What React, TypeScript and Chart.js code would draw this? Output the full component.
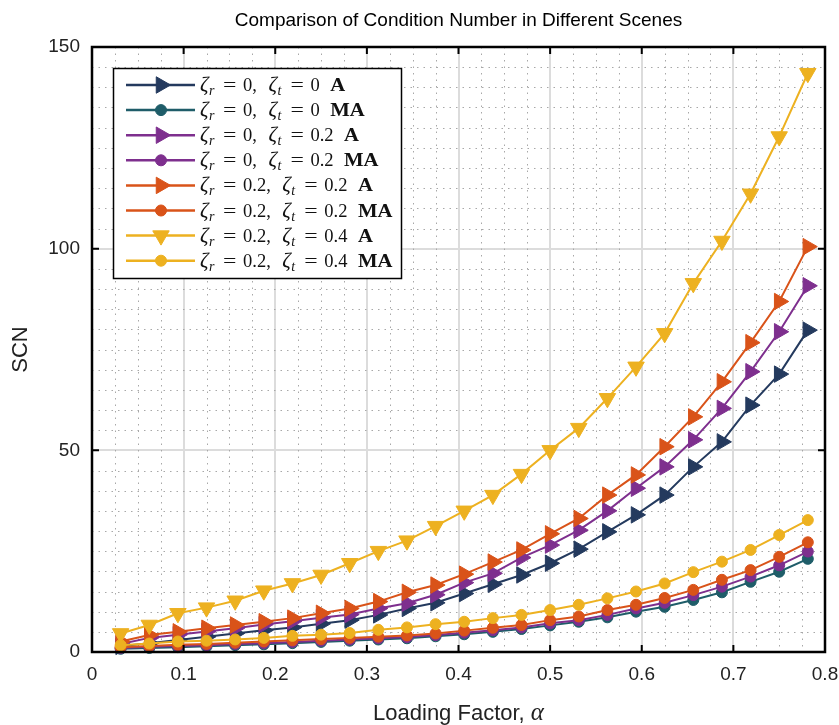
import React, { useEffect, useRef } from "react";
import { Chart, registerables } from "chart.js";

Chart.register(...registerables);

// Loading factor (x values)
const alpha = [
  0.03125, 0.0625, 0.09375, 0.125, 0.15625, 0.1875, 0.21875, 0.25, 0.28125,
  0.3125, 0.34375, 0.375, 0.40625, 0.4375, 0.46875, 0.5, 0.53125, 0.5625,
  0.59375, 0.625, 0.65625, 0.6875, 0.71875, 0.75, 0.78125,
];

// SCN series
const r0t0A = [1.4, 2.2, 3.0, 3.8, 4.6, 5.4, 6.1, 7.0, 7.9, 9.2, 10.8, 12.2, 14.5, 16.8, 19.1, 22.0, 25.5, 29.8, 34.0, 38.9, 45.9, 52.1, 61.2, 68.9, 79.8];
const r0t0MA = [0.8, 1.0, 1.2, 1.4, 1.7, 1.9, 2.2, 2.5, 2.8, 3.1, 3.4, 3.9, 4.4, 5.0, 5.7, 6.6, 7.5, 8.6, 10.0, 11.2, 12.9, 14.8, 17.4, 19.9, 23.1];
const r0t02A = [2.0, 3.5, 4.3, 5.1, 5.9, 6.8, 7.6, 8.5, 9.3, 10.8, 12.1, 14.2, 17.2, 19.5, 23.4, 26.5, 30.2, 35.0, 40.6, 45.9, 52.6, 60.4, 69.5, 79.4, 90.8];
const r0t02MA = [1.0, 1.3, 1.5, 1.7, 2.0, 2.2, 2.5, 2.8, 3.1, 3.4, 3.7, 4.2, 4.8, 5.4, 6.1, 7.1, 7.9, 9.2, 10.8, 12.2, 14.1, 16.2, 18.7, 21.5, 24.9];
const r02t02A = [2.6, 4.2, 5.0, 5.9, 6.7, 7.5, 8.4, 9.6, 10.8, 12.5, 14.8, 16.6, 19.3, 22.3, 25.3, 29.3, 33.1, 38.9, 43.9, 50.9, 58.3, 67.0, 76.7, 86.9, 100.5];
const r02t02MA = [1.2, 1.5, 1.8, 2.0, 2.3, 2.6, 2.9, 3.2, 3.5, 3.8, 4.1, 4.6, 5.3, 6.0, 6.7, 7.9, 8.8, 10.4, 11.7, 13.4, 15.4, 17.9, 20.3, 23.6, 27.2];
const r02t04A = [4.6, 6.7, 9.6, 11.0, 12.7, 15.2, 17.0, 19.1, 22.0, 25.0, 27.6, 31.2, 35.0, 38.9, 44.1, 50.0, 55.5, 62.9, 70.7, 79.0, 91.4, 101.9, 113.6, 127.8, 143.5];
const r02t04MA = [1.7, 2.1, 2.6, 2.8, 3.1, 3.5, 4.0, 4.3, 4.7, 5.5, 6.1, 6.9, 7.5, 8.4, 9.2, 10.4, 11.7, 13.3, 15.0, 17.0, 19.8, 22.4, 25.3, 29.0, 32.7];

// Legend text pieces
const zetaR = ["0", "0", "0", "0", "0.2", "0.2", "0.2", "0.2"];
const zetaT = ["0", "0", "0.2", "0.2", "0.2", "0.2", "0.4", "0.4"];
const method = ["A", "MA", "A", "MA", "A", "MA", "A", "MA"];

// Axis ticks / labels
const xTicks = [0, 0.1, 0.2, 0.3, 0.4, 0.5, 0.6, 0.7, 0.8];
const yTicks = [0, 50, 100, 150];
const titleText = "Comparison of Condition Number in Different Scenes";
const xLabel = "Loading Factor, ";
const xLabelSym = "\u03b1";
const yLabel = "SCN";

const seriesData = [r0t0A, r0t0MA, r0t02A, r0t02MA, r02t02A, r02t02MA, r02t04A, r02t04MA];
const colors = ["#243a5e", "#1f5d69", "#7e2f8e", "#7e2f8e", "#d95319", "#d95319", "#edb120", "#edb120"];
const markerStyle = ["tri-right", "circle", "tri-right", "circle", "tri-right", "circle", "tri-down", "circle"];

const SANS = "'Liberation Sans', Arial, Helvetica, sans-serif";
const SERIF = "'Liberation Serif', 'Times New Roman', serif";

function drawMarker(ctx: CanvasRenderingContext2D, kind: string, x: number, y: number, color: string) {
  ctx.save();
  ctx.fillStyle = color;
  ctx.strokeStyle = color;
  ctx.lineWidth = 1;
  ctx.setLineDash([]);
  ctx.beginPath();
  if (kind === "circle") {
    ctx.arc(x, y, 5.5, 0, Math.PI * 2);
  } else {
    const r = 9.5;
    let rad = kind === "tri-right" ? Math.PI / 2 : Math.PI;
    for (let i = 0; i < 3; i++) {
      const px = x + Math.sin(rad) * r;
      const py = y - Math.cos(rad) * r;
      if (i === 0) ctx.moveTo(px, py);
      else ctx.lineTo(px, py);
      rad += (2 * Math.PI) / 3;
    }
    ctx.closePath();
  }
  ctx.fill();
  ctx.stroke();
  ctx.restore();
}

const decorPlugin = {
  id: "decor",
  beforeDatasetsDraw(chart: any) {
    const { ctx, chartArea: a, scales } = chart;
    const xs = scales.x;
    const ys = scales.y;
    ctx.save();
    ctx.strokeStyle = "#a8a8a8";
    ctx.lineWidth = 1;
    ctx.setLineDash([1.5, 5]);
    for (let i = 1; i < 32; i++) {
      if (i % 4 === 0) continue;
      const px = Math.round(xs.getPixelForValue(i * 0.025)) + 0.5;
      ctx.beginPath();
      ctx.moveTo(px, a.top);
      ctx.lineTo(px, a.bottom);
      ctx.stroke();
    }
    for (let i = 1; i < 30; i++) {
      if (i % 10 === 0) continue;
      const py = Math.round(ys.getPixelForValue(i * 5)) + 0.5;
      ctx.beginPath();
      ctx.moveTo(a.left, py);
      ctx.lineTo(a.right, py);
      ctx.stroke();
    }
    ctx.restore();
  },
  afterDatasetsDraw(chart: any) {
    const { ctx, chartArea: a, scales } = chart;
    const xs = scales.x;
    const ys = scales.y;
    ctx.save();
    ctx.setLineDash([]);
    // ticks inward
    ctx.strokeStyle = "#000";
    ctx.lineWidth = 2;
    const tl = 7;
    xTicks.forEach((v) => {
      const px = xs.getPixelForValue(v);
      ctx.beginPath();
      ctx.moveTo(px, a.bottom);
      ctx.lineTo(px, a.bottom - tl);
      ctx.moveTo(px, a.top);
      ctx.lineTo(px, a.top + tl);
      ctx.stroke();
    });
    yTicks.forEach((v) => {
      const py = ys.getPixelForValue(v);
      ctx.beginPath();
      ctx.moveTo(a.left, py);
      ctx.lineTo(a.left + tl, py);
      ctx.moveTo(a.right, py);
      ctx.lineTo(a.right - tl, py);
      ctx.stroke();
    });
    // box
    ctx.lineWidth = 2.5;
    ctx.strokeRect(a.left, a.top, a.right - a.left, a.bottom - a.top);

    // legend
    const lx = 113.5, ly = 68.5, lw = 288, lh = 210;
    ctx.fillStyle = "#fff";
    ctx.fillRect(lx, ly, lw, lh);
    ctx.strokeStyle = "#000";
    ctx.lineWidth = 1.5;
    ctx.strokeRect(lx, ly, lw, lh);
    for (let i = 0; i < 8; i++) {
      const cy = 85 + i * 25.1;
      ctx.strokeStyle = colors[i];
      ctx.lineWidth = 2.5;
      ctx.beginPath();
      ctx.moveTo(126, cy);
      ctx.lineTo(195, cy);
      ctx.stroke();
      drawMarker(ctx, markerStyle[i], 161, cy, colors[i]);

      const base = cy + 6;
      ctx.fillStyle = "#111";
      ctx.textBaseline = "alphabetic";
      ctx.textAlign = "left";
      const zetaBlock = (x0: number, sub: string) => {
        ctx.font = `italic 21px ${SERIF}`;
        ctx.fillText("\u03b6", x0, base);
        const w = ctx.measureText("\u03b6").width;
        ctx.font = `italic 14px ${SERIF}`;
        ctx.fillText(sub, x0 + w + 0.5, base + 4);
      };
      const eq = (x0: number) => {
        ctx.font = `19px ${SERIF}`;
        ctx.save();
        ctx.translate(x0, base);
        ctx.scale(1.25, 1);
        ctx.fillText("=", 0, 0);
        ctx.restore();
      };
      let x = 200;
      zetaBlock(x, "r");
      eq(x + 23);
      x = x + 43;
      ctx.font = `18.5px ${SERIF}`;
      ctx.fillText(zetaR[i], x, base);
      x += ctx.measureText(zetaR[i]).width;
      ctx.fillText(",", x, base);
      x += ctx.measureText(",").width + 11.5;
      zetaBlock(x, "t");
      eq(x + 22);
      x = x + 42;
      ctx.font = `18.5px ${SERIF}`;
      ctx.fillText(zetaT[i], x, base);
      x += ctx.measureText(zetaT[i]).width + 10.5;
      ctx.font = `bold 18.5px ${SERIF}`;
      ctx.save();
      ctx.translate(x, base);
      ctx.scale(1.12, 1);
      ctx.fillText(method[i], 0, 0);
      ctx.restore();
    }
    ctx.restore();
  },
  afterDraw(chart: any) {
    const { ctx, chartArea: a } = chart;
    ctx.save();
    const cx = (a.left + a.right) / 2;
    ctx.fillStyle = "#000";
    ctx.textAlign = "center";
    ctx.textBaseline = "middle";
    ctx.font = `19px ${SANS}`;
    ctx.fillText(titleText, cx, 21);

    // x label
    ctx.font = `22px ${SANS}`;
    const w1 = ctx.measureText(xLabel).width;
    ctx.font = `italic 25px ${SERIF}`;
    const w2 = ctx.measureText(xLabelSym).width;
    const sx = cx - (w1 + w2) / 2;
    ctx.textAlign = "left";
    ctx.textBaseline = "alphabetic";
    ctx.font = `22px ${SANS}`;
    ctx.fillStyle = "#222";
    ctx.fillText(xLabel, sx, 720);
    ctx.font = `italic 25px ${SERIF}`;
    ctx.fillText(xLabelSym, sx + w1, 720);

    // y label
    ctx.save();
    ctx.translate(21, (a.top + a.bottom) / 2);
    ctx.rotate(-Math.PI / 2);
    ctx.textAlign = "center";
    ctx.textBaseline = "middle";
    ctx.font = `22px ${SANS}`;
    ctx.fillText(yLabel, 0, 0);
    ctx.restore();
    ctx.restore();
  },
};

export default function App() {
  const canvasRef = useRef<HTMLCanvasElement | null>(null);

  useEffect(() => {
    if (!canvasRef.current) return;
    const datasets = seriesData.map((vals, i) => {
      const kind = markerStyle[i];
      return {
        label: `${method[i]} ${zetaR[i]} ${zetaT[i]}`,
        data: vals.map((v, j) => ({ x: alpha[j], y: v })),
        borderColor: colors[i],
        backgroundColor: colors[i],
        borderWidth: 2,
        pointStyle: kind === "circle" ? "circle" : "triangle",
        rotation: kind === "tri-right" ? 90 : kind === "tri-down" ? 180 : 0,
        pointRadius: kind === "circle" ? 5.5 : 9.5,
        pointBorderWidth: 1,
        pointBackgroundColor: colors[i],
        pointBorderColor: colors[i],
        tension: 0,
        clip: false as any,
        order: 7 - i,
      };
    });
    const chart = new Chart(canvasRef.current, {
      type: "line",
      data: { datasets },
      plugins: [decorPlugin],
      options: {
        animation: false,
        responsive: false,
        devicePixelRatio: 1,
        layout: { padding: { top: 47, right: 14, left: 0, bottom: 0 } },
        plugins: { legend: { display: false }, tooltip: { enabled: false }, title: { display: false } },
        scales: {
          x: {
            type: "linear",
            min: 0,
            max: 0.8,
            afterFit: (s: any) => { s.height = 73; s.paddingLeft = 0; s.paddingRight = 0; },
            afterBuildTicks: (s: any) => { s.ticks = xTicks.map((v) => ({ value: v })); },
            ticks: {
              padding: 11,
              color: "#222",
              font: { family: SANS, size: 19 },
              maxRotation: 0,
              callback: (v: any) => String(Math.round(Number(v) * 10) / 10),
            },
            grid: { color: "#dcdcdc", lineWidth: 2, drawTicks: false },
            border: { display: false },
          },
          y: {
            type: "linear",
            min: 0,
            max: 150,
            afterFit: (s: any) => { s.width = 92; s.paddingTop = 0; s.paddingBottom = 0; },
            afterBuildTicks: (s: any) => { s.ticks = yTicks.map((v) => ({ value: v })); },
            ticks: {
              padding: 12,
              color: "#222",
              font: { family: SANS, size: 19 },
            },
            grid: { color: "#dcdcdc", lineWidth: 2, drawTicks: false },
            border: { display: false },
          },
        },
      },
    });
    return () => chart.destroy();
  }, []);

  return (
    <div style={{ position: "absolute", left: 0, top: 0, width: 839, height: 725, background: "#fff" }}>
      <canvas ref={canvasRef} width={839} height={725} style={{ display: "block" }} />
    </div>
  );
}
